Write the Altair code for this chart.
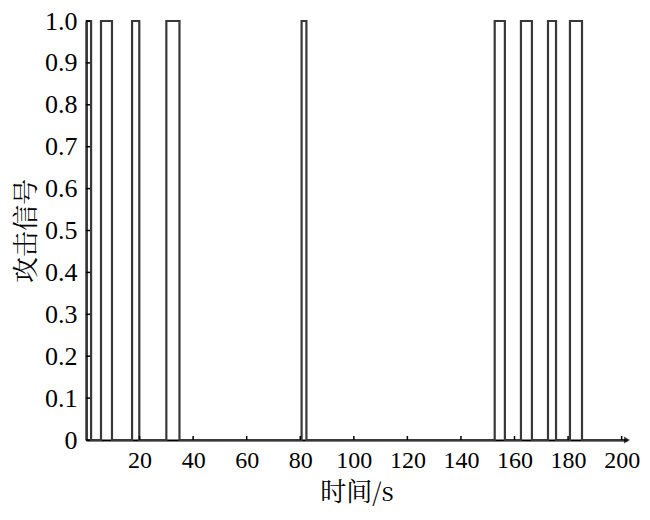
import altair as alt
import pandas as pd

# pulse start / end times (s) of the attack signal
pulse_start = [0.3, 5.6, 17.2, 30.0, 80.5, 152.6, 162.4, 172.5, 180.7]
pulse_end = [1.9, 9.7, 19.9, 34.9, 82.3, 156.4, 166.5, 175.5, 185.2]
t_end = 202.0
x_ticks = [20, 40, 60, 80, 100, 120, 140, 160, 180, 200]
y_ticks = [0, 0.1, 0.2, 0.3, 0.4, 0.5, 0.6, 0.7, 0.8, 0.9, 1.0]

rows = [{"t": 0.0, "v": 0, "o": 0}]
o = 1
for s, e in zip(pulse_start, pulse_end):
    rows += [{"t": s, "v": 0, "o": o}, {"t": s, "v": 1, "o": o + 1},
             {"t": e, "v": 1, "o": o + 2}, {"t": e, "v": 0, "o": o + 3}]
    o += 4
rows.append({"t": t_end, "v": 0, "o": o})
df = pd.DataFrame(rows)

xs = alt.Scale(domain=[0, t_end], nice=False, zero=False)
ys = alt.Scale(domain=[0, 1.0], nice=False)

FONT = "Liberation Serif"
CJK = "Noto Serif CJK SC"

TOP = 13
H = 419

x_axis = alt.Axis(values=x_ticks, title="时间/s")
y_axis = alt.Axis(
    values=y_ticks, title="攻击信号",
    labelExpr="datum.value == 0 ? '0' : format(datum.value, '.1f')")

signal = alt.Chart(df).mark_line(color="#383838", strokeWidth=2.2).encode(
    x=alt.X("t:Q", scale=xs, axis=x_axis),
    y=alt.Y("v:Q", scale=ys, axis=y_axis),
    order="o:Q",
)

xt = pd.DataFrame({"t": x_ticks})
xtick = alt.Chart(xt).mark_rule(color="black", strokeWidth=1.5).encode(
    x=alt.X("t:Q", scale=xs, axis=x_axis), y=alt.value(H), y2=alt.value(H - 4))
yt = pd.DataFrame({"v": y_ticks})
ytick = alt.Chart(yt).mark_rule(color="black", strokeWidth=1.5).encode(
    y=alt.Y("v:Q", scale=ys, axis=y_axis), x=alt.value(0), x2=alt.value(4))

arrow = alt.Chart(pd.DataFrame({"t": [t_end], "v": [0]})).mark_point(
    shape="triangle-right", filled=True, color="black", size=50).encode(
    x=alt.X("t:Q", scale=xs, axis=x_axis), y=alt.Y("v:Q", scale=ys, axis=y_axis))

chart = alt.layer(signal, xtick, ytick, arrow).properties(
    width=541, height=H,
    autosize=alt.AutoSizeParams(type="none"),
    padding={"left": 78, "top": TOP, "right": 15, "bottom": 504 - TOP - H},
).configure_view(stroke=None).configure_axis(
    labelColor="black", titleColor="black", titleFontWeight="normal",
    labelFont=FONT, titleFont=CJK, ticks=False, grid=False,
    domainColor="black", domainWidth=2,
).configure_axisX(
    labelFontSize=24, titleFontSize=26, labelPadding=8, titlePadding=7,
).configure_axisY(
    labelFontSize=26, titleFontSize=26, labelPadding=9, titlePadding=5,
)

chart.save("out.html", embed_options={"renderer": "svg", "actions": False})
